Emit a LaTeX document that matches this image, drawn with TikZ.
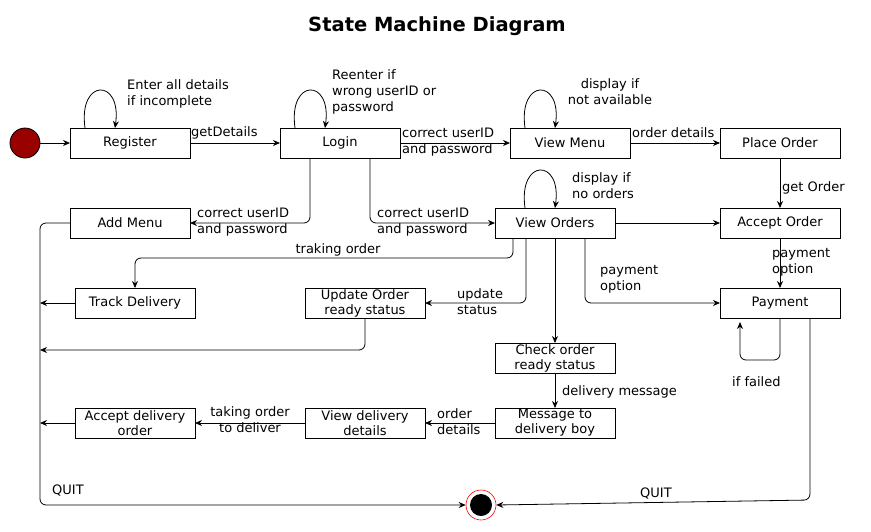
\documentclass[tikz,border=0pt]{standalone}
\usepackage{fontspec}
\setmainfont{DejaVu Sans}
\usetikzlibrary{arrows.meta, positioning, calc}

\begin{document}
\begin{tikzpicture}
   [
      x=1pt, y=-1pt,
      % Default text settings for every node
      every node/.style={font=\fontsize{13}{16}\selectfont},
      % Style for the state boxes
      state/.style={rectangle, draw, line width=0.8pt, minimum width=120pt, minimum height=30pt, inner sep=0pt, outer sep=0pt, align=center, font=\fontsize{13}{15}\selectfont},
      % Style for the start and end states
      start state/.style={circle, draw, line width=0.8pt, fill=red!60!black, minimum size=30pt, inner sep=0pt},
      end state/.style={circle, draw=red, line width=0.6pt, fill=white, minimum size=30pt, inner sep=0pt},
      % Style for the transitions
      flow/.style={-{Stealth[length=7pt, width=6pt]}, line width=0.8pt, rounded corners=6pt},
      % Style for the transition labels
      label node/.style={anchor=west, align=left, inner sep=0pt}
   ]
    \useasboundingbox (0,0) rectangle (871,531);

    % Title
    \node[font=\fontsize{19.5}{22}\selectfont\bfseries] (title) at (437,26) {State Machine Diagram};

    % =======================================================
    % States
    % =======================================================
    \node[start state] (start) at (25,143) {};
    \node[state] (register) at (130,143) {Register};
    \node[state, right=90pt of register] (login) {Login};
    \node[state, right=110pt of login] (viewmenu) {View Menu};
    \node[state, right=90pt of viewmenu] (placeorder) {Place Order};

    \node[state] (addmenu) at (130,223) {Add Menu};
    \node[state] (vieworders) at (555,223) {View Orders};
    \node[state, below=50pt of placeorder] (acceptorder) {Accept Order};
    \node[state, below=50pt of acceptorder] (payment) {Payment};

    \node[state] (track) at (135,303) {Track Delivery};
    \node[state] (update) at (365,303) {Update Order\\ready status};

    \node[state, below=105pt of vieworders] (check) {Check order\\ready status};
    \node[state, below=35pt of check] (message) {Message to\\delivery boy};
    \node[state, left=70pt of message] (viewdelivery) {View delivery\\details};
    \node[state, left=110pt of viewdelivery] (acceptdelivery) {Accept delivery\\order};

    \node[end state] (final) at (481,505) {};
    \fill (final.center) circle (11pt);

    % Points on the left return line
    \coordinate (bus mid) at (40,350);
    \coordinate (bus bottom) at (40,505);

    % =======================================================
    % Transitions
    % =======================================================
    \draw[flow] (start) -- (register);
    \draw[flow] (register) -- (login);
    \draw[flow] (login) -- (viewmenu);
    \draw[flow] (viewmenu) -- (placeorder);
    \draw[flow] (placeorder) -- (acceptorder);
    \draw[flow] (acceptorder) -- (payment);
    \draw[flow] (vieworders) -- (acceptorder);

    \draw[flow] ($(login.south)+(-30,0)$) |- (addmenu.east);
    \draw[flow] ($(login.south)+(30,0)$) |- (vieworders.west);

    \draw[flow] ($(vieworders.south)+(-42,0)$) -- ++(0,20) -| (track.north);
    \draw[flow] ($(vieworders.south)+(-29,0)$) |- (update.east);
    \draw[flow] (vieworders) -- (check);
    \draw[flow] ($(vieworders.south)+(30,0)$) |- (payment.west);

    \draw[flow] (check) -- (message);
    \draw[flow] (message) -- (viewdelivery);
    \draw[flow] (viewdelivery) -- (acceptdelivery);

    % Back to the left line
    \draw[flow] (track.west) -- (track.west -| bus mid);
    \draw[flow] (update.south) |- (bus mid);
    \draw[flow] (acceptdelivery.west) -- (acceptdelivery.west -| bus mid);

    % Quit
    \draw[flow] (addmenu.west) -| (bus bottom) -- (final.west);
    \draw[flow] ($(payment.south)+(30,0)$) -- ++(0,182) -- (final.east);

    % Self loops
    \draw[flow] ($(register.north)+(-45,0)$) .. controls +(-7,-50) and +(7,-50) .. ($(register.north)+(-15,0)$);
    \draw[flow] ($(login.north)+(-45,0)$) .. controls +(-7,-50) and +(7,-50) .. ($(login.north)+(-15,0)$);
    \draw[flow] ($(viewmenu.north)+(-45,0)$) .. controls +(-7,-50) and +(7,-50) .. ($(viewmenu.north)+(-15,0)$);
    \draw[flow] ($(vieworders.north)+(-30,0)$) .. controls +(-7,-50) and +(7,-50) .. (vieworders.north);
    \draw[flow] (payment.south) -- ++(0,42) -| ([xshift=-40pt, yshift=-4pt]payment.south);

    % =======================================================
    % Labels
    % =======================================================
    \node[label node] (getdetails) at (191,133) {getDetails};
    \node[label node] (enterall) at (127,94) {Enter all details\\if incomplete};
    \node[label node] (reenter) at (332,92) {Reenter if\\wrong userID or\\password};
    \node[label node] (correctmenu) at (402,142) {correct userID\\and password};
    \node[align=center, inner sep=0pt] (notavail) at (610,92) {display if\\not available};
    \node[label node] (orderdetails) at (632,133) {order details};
    \node[label node] (getorder) at (782,188) {get Order};
    \node[label node] (correctadd) at (197,222) {correct userID\\and password};
    \node[label node] (correctorders) at (377,222) {correct userID\\and password};
    \node[label node] (noorders) at (572,186) {display if\\no orders};
    \node[inner sep=0pt] (traking) at (338,250) {traking order};
    \node[label node] (updatestatus) at (457,302) {update\\status};
    \node[label node] (payoptleft) at (600,279) {payment\\option};
    \node[label node] (payoptright) at (772,262) {payment\\option};
    \node[label node] (iffailed) at (732,382) {if failed};
    \node[label node] (delivmsg) at (562,392) {delivery message};
    \node[label node] (orderdet) at (437,422) {order\\details};
    \node[align=center, inner sep=0pt] (taking) at (250,420) {taking order\\to deliver};
    \node[label node] (quitleft) at (52,491) {QUIT};
    \node[label node] (quitright) at (640,494) {QUIT};

\end{tikzpicture}
\end{document}
